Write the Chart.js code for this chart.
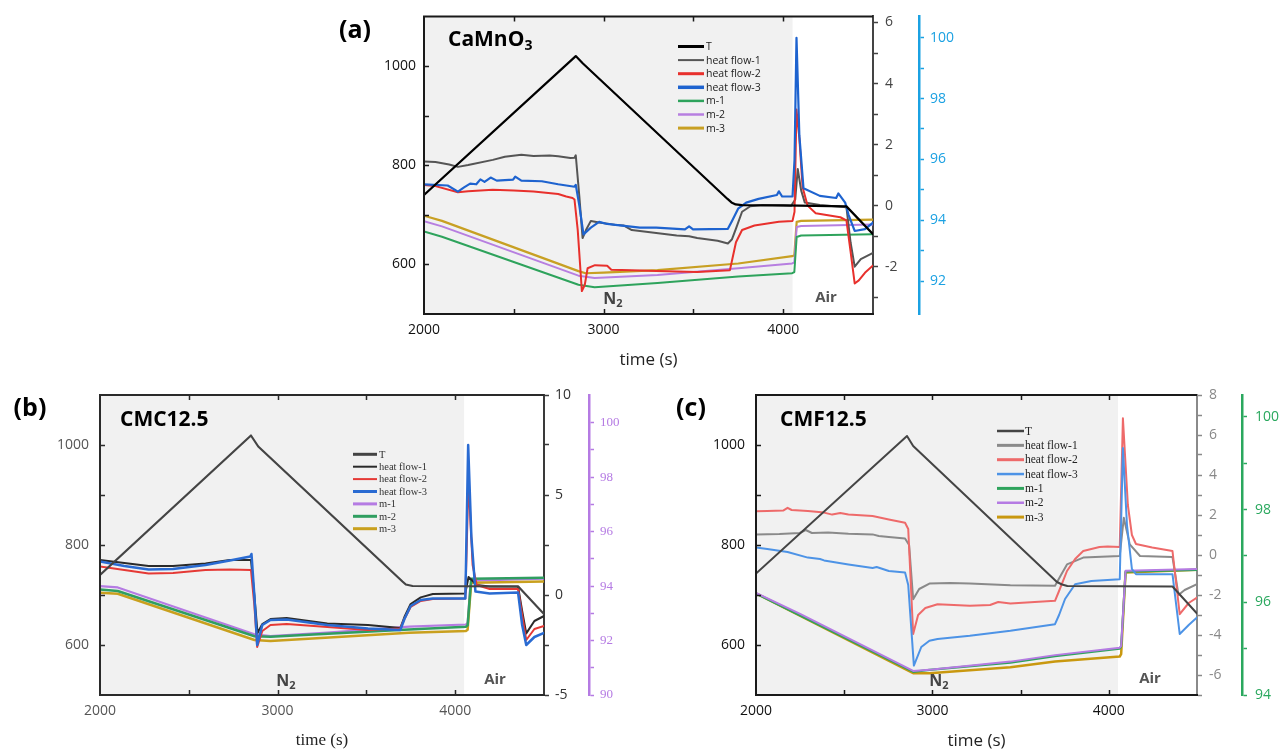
<!DOCTYPE html>
<html><head><meta charset="utf-8">
<script src="https://cdn.jsdelivr.net/npm/chart.js@4.4.1/dist/chart.umd.min.js"></script>
<style>
html,body{margin:0;padding:0;background:#fff;width:1282px;height:753px;overflow:hidden}
body{position:relative}
canvas{position:absolute}
</style></head><body>
<canvas id="ca" width="640" height="370" style="left:330px;top:0px"></canvas>
<canvas id="cb" width="640" height="383" style="left:0px;top:370px"></canvas>
<canvas id="cc" width="642" height="383" style="left:640px;top:370px"></canvas>
<script>
// ---------- shared tick values ----------
const xLabels = [2000, 3000, 4000];
const xMarks = [2500, 3000, 3500, 4000];
const tLabels = [600, 800, 1000];
const tMarks = [600, 700, 800, 900, 1000];
const seriesNames = ['T', 'heat flow-1', 'heat flow-2', 'heat flow-3', 'm-1', 'm-2', 'm-3'];

// ---------- panel (a) CaMnO3 ----------
const aT = [[2000,740],[2845,1020],[2885,1005],[3690,732],[3712,725],[3735,721],[3770,719.5],[4000,719],[4352,717],[4500,661]];
const aHF1 = [[2000,1.45],[2064,1.43],[2140,1.35],[2189,1.27],[2246,1.33],[2383,1.5],[2450,1.6],[2542,1.67],[2610,1.63],[2700,1.64],[2747,1.62],[2815,1.56],[2838,1.57],[2845,1.65],[2865,0.3],[2883,-1.06],[2902,-0.8],[2929,-0.5],[2975,-0.55],[3066,-0.63],[3111,-0.65],[3157,-0.8],[3293,-0.9],[3407,-0.98],[3476,-1.0],[3521,-1.06],[3635,-1.15],[3692,-1.24],[3715,-1.1],[3737,-0.75],[3771,-0.2],[3817,-0.02],[3885,0.02],[4045,0.0],[4067,0.2],[4081,1.2],[4100,0.5],[4120,0.1],[4204,0.02],[4352,-0.05],[4375,-1.2],[4398,-2.0],[4432,-1.75],[4500,-1.55]];
const aHF2 = [[2000,0.68],[2064,0.64],[2189,0.44],[2246,0.47],[2383,0.52],[2500,0.5],[2610,0.46],[2747,0.38],[2792,0.3],[2827,0.25],[2838,0.2],[2856,-0.8],[2879,-2.8],[2895,-2.6],[2911,-2.05],[2952,-1.95],[3020,-1.97],[3043,-2.1],[3157,-2.12],[3293,-2.14],[3521,-2.17],[3703,-2.12],[3715,-1.8],[3737,-1.2],[3771,-0.8],[3840,-0.65],[3976,-0.53],[4052,-0.5],[4063,-0.2],[4074,3.15],[4090,2.2],[4108,0.6],[4136,0.0],[4181,-0.25],[4318,-0.38],[4352,-0.48],[4375,-1.5],[4398,-2.55],[4421,-2.45],[4455,-2.2],[4500,-1.96]];
const aHF3 = [[2000,0.7],[2132,0.66],[2189,0.46],[2223,0.6],[2257,0.72],[2291,0.7],[2314,0.86],[2337,0.78],[2371,0.92],[2405,0.82],[2496,0.85],[2508,0.95],[2542,0.82],[2656,0.8],[2747,0.7],[2838,0.62],[2845,0.68],[2865,0.0],[2888,-0.94],[2929,-0.72],[2975,-0.53],[3020,-0.6],[3066,-0.63],[3202,-0.72],[3293,-0.72],[3453,-0.78],[3476,-0.68],[3498,-0.78],[3692,-0.76],[3715,-0.5],[3749,-0.1],[3794,0.1],[3863,0.22],[3965,0.35],[3976,0.47],[3994,0.3],[4052,0.3],[4063,1.5],[4074,5.5],[4090,2.3],[4113,0.57],[4204,0.32],[4295,0.25],[4307,0.4],[4345,0.1],[4364,-0.3],[4398,-0.83],[4455,-0.77],[4500,-0.56]];
const aM1 = [[2000,93.63],[2100,93.46],[2860,91.88],[2950,91.8],[3300,91.94],[3750,92.15],[4050,92.26],[4062,92.3],[4075,93.45],[4100,93.5],[4500,93.54]];
const aM2 = [[2000,93.97],[2100,93.8],[2860,92.18],[2950,92.1],[3300,92.2],[3750,92.42],[4050,92.58],[4062,92.62],[4075,93.78],[4100,93.81],[4500,93.86]];
const aM3 = [[2000,94.15],[2100,93.98],[2860,92.33],[2900,92.26],[3000,92.28],[3300,92.36],[3750,92.58],[4050,92.82],[4062,92.85],[4075,93.95],[4100,93.98],[4500,94.02]];
const aHFTicks = [-3,-2,-1,0,1,2,3,4,5,6];
const aHFLabels = [-2,0,2,4,6];
const aMTicks = [92,93,94,95,96,97,98,99,100];
const aMLabels = [92,94,96,98,100];

// ---------- panel (b) CMC12.5 ----------
const bT = [[2000,740],[2850,1019],[2891,997],[3703,727],[3722,721],[3760,718],[4355,717],[4500,662]];
const bHF1 = [[2000,1.75],[2137,1.6],[2274,1.45],[2411,1.45],[2594,1.58],[2731,1.75],[2850,1.75],[2869,0.0],[2887,-1.9],[2914,-1.45],[2960,-1.2],[3051,-1.15],[3280,-1.42],[3509,-1.5],[3691,-1.65],[3714,-1.1],[3749,-0.45],[3806,-0.12],[3874,0.05],[4057,0.08],[4075,0.9],[4098,0.7],[4121,0.5],[4194,0.42],[4354,0.42],[4377,-0.8],[4400,-1.92],[4446,-1.3],[4500,-1.05]];
const bHF2 = [[2000,1.42],[2137,1.25],[2274,1.08],[2411,1.1],[2594,1.25],[2731,1.27],[2850,1.25],[2869,-0.5],[2885,-2.6],[2914,-1.8],[2960,-1.5],[3051,-1.45],[3280,-1.6],[3509,-1.75],[3691,-1.67],[3714,-1.2],[3749,-0.6],[3806,-0.3],[3874,-0.2],[4057,-0.17],[4075,5.75],[4098,1.5],[4121,0.5],[4194,0.3],[4354,0.3],[4377,-1.0],[4400,-2.25],[4446,-1.7],[4500,-1.55]];
const bHF3 = [[2000,1.67],[2137,1.45],[2274,1.28],[2411,1.3],[2594,1.5],[2731,1.72],[2846,1.92],[2853,2.05],[2869,0.0],[2885,-2.5],[2914,-1.5],[2960,-1.25],[3051,-1.22],[3280,-1.5],[3509,-1.67],[3691,-1.75],[3714,-1.2],[3749,-0.55],[3806,-0.25],[3874,-0.17],[4057,-0.17],[4073,7.5],[4091,2.92],[4114,0.17],[4194,0.08],[4354,0.12],[4377,-1.5],[4400,-2.5],[4446,-2.1],[4500,-1.9]];
const bM1 = [[2000,94.0],[2100,93.95],[2870,92.23],[2960,92.16],[3280,92.29],[3740,92.51],[4060,92.59],[4070,92.65],[4085,94.0],[4100,94.2],[4500,94.27]];
const bM2 = [[2000,93.88],[2100,93.82],[2870,92.16],[2960,92.14],[3740,92.41],[4060,92.51],[4070,92.56],[4090,94.27],[4500,94.31]];
const bM3 = [[2000,93.76],[2100,93.72],[2870,92.02],[2960,91.98],[3740,92.29],[4060,92.35],[4070,92.4],[4090,94.12],[4500,94.17]];
const bHFTicks = [-5,-2.5,0,2.5,5,7.5,10];
const bHFLabels = [-5,0,5,10];
const bMTicks = [90,91,92,93,94,95,96,97,98,99,100];
const bMLabels = [90,92,94,96,98,100];

// ---------- panel (c) CMF12.5 ----------
const cT = [[2000,743],[2856,1018],[2891,998],[3706,726],[3735,721],[3765,718],[4361,717],[4500,663]];
const cHF1 = [[2000,1.03],[2133,1.05],[2248,1.1],[2282,1.25],[2317,1.1],[2409,1.12],[2524,1.06],[2661,1.03],[2696,0.95],[2753,0.9],[2845,0.83],[2868,0.5],[2891,-2.21],[2925,-1.7],[2983,-1.43],[3100,-1.4],[3212,-1.43],[3442,-1.51],[3695,-1.54],[3729,-1.0],[3763,-0.47],[3855,-0.13],[4062,-0.05],[4085,1.86],[4119,0.53],[4177,-0.05],[4361,-0.1],[4395,-2.0],[4430,-1.75],[4500,-1.46]];
const cHF2 = [[2000,2.19],[2064,2.2],[2156,2.23],[2179,2.36],[2202,2.25],[2294,2.2],[2386,2.12],[2432,2.02],[2478,2.1],[2524,2.03],[2661,1.95],[2753,1.78],[2845,1.61],[2863,1.3],[2891,-3.95],[2919,-3.0],[2960,-2.65],[3029,-2.46],[3121,-2.5],[3212,-2.54],[3327,-2.5],[3373,-2.35],[3442,-2.43],[3580,-2.35],[3695,-2.29],[3718,-1.8],[3763,-0.8],[3809,-0.2],[3855,0.2],[3901,0.3],[3947,0.4],[3993,0.42],[4062,0.4],[4080,6.84],[4108,2.5],[4131,1.0],[4154,0.55],[4246,0.38],[4361,0.2],[4402,-2.96],[4453,-2.4],[4500,-2.13]];
const cHF3 = [[2000,0.37],[2064,0.3],[2179,0.15],[2294,-0.13],[2363,-0.2],[2386,-0.27],[2524,-0.47],[2661,-0.65],[2684,-0.6],[2753,-0.8],[2845,-0.88],[2863,-1.5],[2895,-5.53],[2937,-4.6],[2983,-4.29],[3029,-4.2],[3212,-4.04],[3442,-3.79],[3695,-3.46],[3718,-3.0],[3752,-2.2],[3809,-1.46],[3901,-1.3],[4062,-1.21],[4080,5.35],[4103,1.5],[4131,-0.7],[4154,-0.96],[4361,-0.96],[4402,-3.95],[4453,-3.5],[4500,-3.12]];
const cM1 = [[2000,96.19],[2891,94.5],[2983,94.54],[3442,94.7],[3695,94.84],[4062,95.0],[4070,95.05],[4095,96.66],[4500,96.7]];
const cM2 = [[2000,96.2],[2250,95.75],[2891,94.52],[3000,94.55],[3442,94.72],[3695,94.86],[4062,95.02],[4070,95.06],[4095,96.68],[4500,96.72]];
const cM3 = [[2000,96.19],[2891,94.47],[2983,94.47],[3442,94.6],[3695,94.72],[4062,94.83],[4070,94.88],[4095,96.64],[4500,96.7]];
const cHFTicks = [-7,-6,-5,-4,-3,-2,-1,0,1,2,3,4,5,6,7,8];
const cHFLabels = [-6,-4,-2,0,2,4,6,8];
const cMTicks = [94,95,96,97,98,99,100];
const cMLabels = [94,96,98,100];

const SANS = "'Open Sans', 'DejaVu Sans', sans-serif";
const SERIF = "'Liberation Serif', 'DejaVu Serif', serif";

function toPts(arr) { return arr.map(p => ({ x: p[0], y: p[1] })); }

function richText(ctx, parts, x, y, align) {
  let w = 0;
  parts.forEach(p => { ctx.font = p.f; w += ctx.measureText(p.t).width; });
  let cx = align === 'center' ? x - w / 2 : x;
  ctx.textBaseline = 'middle'; ctx.textAlign = 'left';
  parts.forEach(p => {
    ctx.font = p.f; ctx.fillStyle = p.c;
    ctx.fillText(p.t, cx, y + (p.dy || 0));
    cx += ctx.measureText(p.t).width;
  });
}

function makeChart(id, P) {
  const el = document.getElementById(id);
  const W = el.width, H = el.height;
  const A = P.area;
  const datasets = P.series.map((s, i) => ({
    label: P.names[i], data: toPts(s.data), yAxisID: s.axis, order: s.order,
    borderColor: s.color, borderWidth: s.w, legW: s.legW,
    pointRadius: 0, fill: false, tension: 0, borderJoinStyle: 'round', borderCapStyle: 'round'
  }));
  const plug = {
    id: 'deco' + id,
    beforeDatasetsDraw(chart) {
      const ctx = chart.ctx, ca = chart.chartArea, xs = chart.scales.x;
      ctx.save();
      ctx.fillStyle = '#f1f1f1';
      const xe = xs.getPixelForValue(P.shadeEnd);
      ctx.fillRect(ca.left, ca.top, xe - ca.left, ca.bottom - ca.top);
      ctx.restore();
    },
    afterDraw(chart) {
      const ctx = chart.ctx, ca = chart.chartArea, xs = chart.scales.x, ys = chart.scales.y;
      ctx.save();
      ctx.strokeStyle = P.frameColor; ctx.lineWidth = 2; ctx.lineCap = 'butt';
      ctx.beginPath();
      ctx.moveTo(ca.right, ca.top); ctx.lineTo(ca.left, ca.top); ctx.lineTo(ca.left, ca.bottom); ctx.lineTo(ca.right + 1, ca.bottom);
      ctx.stroke();
      ctx.lineWidth = 1.5;
      ctx.beginPath();
      xMarks.forEach(v => {
        const px = Math.round(xs.getPixelForValue(v)) + 0.5;
        ctx.moveTo(px, ca.bottom); ctx.lineTo(px, ca.bottom - 5);
        ctx.moveTo(px, ca.top); ctx.lineTo(px, ca.top + 5);
      });
      tMarks.forEach(v => {
        const py = Math.round(ys.getPixelForValue(v)) + 0.5;
        ctx.moveTo(ca.left, py); ctx.lineTo(ca.left + 5, py);
      });
      ctx.stroke();
      // legend
      const L = P.legend;
      chart.data.datasets.forEach((d, i) => {
        const y = L.y0 + i * L.dy;
        ctx.strokeStyle = d.borderColor; ctx.lineWidth = d.legW;
        ctx.beginPath(); ctx.moveTo(L.x0, y); ctx.lineTo(L.x1, y); ctx.stroke();
        ctx.font = L.font; ctx.fillStyle = L.color; ctx.textAlign = 'left'; ctx.textBaseline = 'middle';
        ctx.fillText(d.label, L.tx, y + 0.5);
      });
      P.texts.forEach(t => richText(ctx, t.parts, t.x, t.y, t.align));
      ctx.restore();
    }
  };
  new Chart(el, {
    type: 'line',
    data: { datasets },
    options: {
      responsive: false, animation: false, devicePixelRatio: 1,
      layout: { padding: { top: A.top, left: 0, right: 0, bottom: 0 } },
      plugins: { legend: { display: false }, tooltip: { enabled: false } },
      scales: {
        x: {
          type: 'linear', position: 'bottom', min: 2000, max: 4500,
          afterBuildTicks: s => { s.ticks = xLabels.map(v => ({ value: v })); },
          afterFit: s => { s.height = H - A.bottom; },
          grid: { display: false, drawTicks: false }, border: { display: false },
          ticks: { padding: P.xPad, color: P.leftColor, font: P.tickFont, maxRotation: 0, callback: v => String(v) },
          title: { display: true, text: 'time (s)', color: '#222', font: P.titleFont, padding: { top: 0, bottom: P.titleBottom } }
        },
        y: {
          type: 'linear', position: 'left', min: 500, max: 1100,
          afterBuildTicks: s => { s.ticks = tLabels.map(v => ({ value: v })); },
          afterFit: s => { s.width = A.left; },
          grid: { display: false, drawTicks: false }, border: { display: false },
          ticks: { padding: P.yPad, color: P.leftColor, font: P.tickFont, callback: v => String(v) }
        },
        y1: {
          type: 'linear', position: 'right', weight: 1, min: P.hf.min, max: P.hf.max,
          afterBuildTicks: s => { s.ticks = P.hf.ticks.map(v => ({ value: v })); },
          afterFit: s => { s.width = P.y1w; },
          grid: { display: true, drawOnChartArea: false, drawTicks: true, tickLength: 5, tickColor: P.hf.color, tickWidth: 1.5 },
          border: { display: true, color: P.hf.color, width: 2 },
          ticks: { padding: P.hf.pad, color: P.hf.labelColor, font: P.hf.font,
                   callback: v => P.hf.labels.includes(v) ? String(v) : '' }
        },
        y2: {
          type: 'linear', position: 'right', weight: 2, min: P.m.min, max: P.m.max,
          afterBuildTicks: s => { s.ticks = P.m.ticks.map(v => ({ value: v })); },
          afterFit: s => { s.width = W - A.right - P.y1w; },
          grid: { display: true, drawOnChartArea: false, drawTicks: true, tickLength: 5, tickColor: P.m.color, tickWidth: 1.5 },
          border: { display: true, color: P.m.color, width: 2.5 },
          ticks: { padding: P.m.pad, color: P.m.color, font: P.m.font,
                   callback: v => P.m.labels.includes(v) ? String(v) : '' }
        }
      }
    },
    plugins: [plug]
  });
}

// ---------- panel (a) ----------
makeChart('ca', {
  area: { left: 94, right: 543, top: 12, bottom: 314 },
  y1w: 46, shadeEnd: 4052, frameColor: '#1a1a1a', leftColor: '#111',
  xPad: 8, yPad: 8, titleBottom: 0,
  tickFont: { family: SANS, size: 14 }, titleFont: { family: SANS, size: 17 },
  names: seriesNames,
  hf: { min: -3.55, max: 6.2, ticks: aHFTicks, labels: aHFLabels, color: '#444', labelColor: '#444', pad: 7, font: { family: SANS, size: 14 } },
  m: { min: 90.92, max: 100.7, ticks: aMTicks, labels: aMLabels, color: '#1ba1e2', pad: 6, font: { family: SANS, size: 14 } },
  series: [
    { data: aT, axis: 'y', color: '#000000', w: 2.2, legW: 3, order: 1 },
    { data: aHF1, axis: 'y1', color: '#555555', w: 2, legW: 2, order: 4 },
    { data: aHF2, axis: 'y1', color: '#e8302c', w: 2, legW: 3, order: 3 },
    { data: aHF3, axis: 'y1', color: '#1e63cf', w: 2.2, legW: 3.5, order: 2 },
    { data: aM1, axis: 'y2', color: '#2ea35c', w: 2, legW: 2.5, order: 5 },
    { data: aM2, axis: 'y2', color: '#b77fe0', w: 2, legW: 2.5, order: 6 },
    { data: aM3, axis: 'y2', color: '#c8a023', w: 2.2, legW: 3, order: 7 }
  ],
  legend: { x0: 348, x1: 374, tx: 376, y0: 46.5, dy: 13.6, font: '10.5px ' + SANS, color: '#222' },
  texts: [
    { parts: [{ t: '(a)', f: 'bold 25px ' + SANS, c: '#000' }], x: 25, y: 31, align: 'center' },
    { parts: [{ t: 'CaMnO', f: 'bold 21px ' + SANS, c: '#000' }, { t: '3', f: 'bold 14px ' + SANS, c: '#000', dy: 6 }], x: 118, y: 40, align: 'left' },
    { parts: [{ t: 'N', f: 'bold 16px ' + SANS, c: '#444' }, { t: '2', f: 'bold 11px ' + SANS, c: '#444', dy: 5 }], x: 283, y: 299, align: 'center' },
    { parts: [{ t: 'Air', f: 'bold 15px ' + SANS, c: '#555' }], x: 496, y: 298, align: 'center' }
  ]
});

// ---------- panel (b) ----------
makeChart('cb', {
  area: { left: 100, right: 544, top: 25, bottom: 325 },
  y1w: 45, shadeEnd: 4050, frameColor: '#2a2a2a', leftColor: '#555',
  xPad: 8, yPad: 11, titleBottom: 2,
  tickFont: { family: SANS, size: 14 }, titleFont: { family: SERIF, size: 17 },
  names: seriesNames,
  hf: { min: -5, max: 10, ticks: bHFTicks, labels: bHFLabels, color: '#3a3a3a', labelColor: '#333', pad: 6, font: { family: SANS, size: 14 } },
  m: { min: 90, max: 101.02, ticks: bMTicks, labels: bMLabels, color: '#b57be3', pad: 6, font: { family: SERIF, size: 13 } },
  series: [
    { data: bT, axis: 'y', color: '#444444', w: 2.2, legW: 3, order: 1 },
    { data: bHF1, axis: 'y1', color: '#2a2a2a', w: 2, legW: 2, order: 4 },
    { data: bHF2, axis: 'y1', color: '#e53935', w: 2, legW: 2, order: 3 },
    { data: bHF3, axis: 'y1', color: '#2a6bd2', w: 2.5, legW: 3, order: 2 },
    { data: bM1, axis: 'y2', color: '#b57be3', w: 2.2, legW: 3, order: 7 },
    { data: bM2, axis: 'y2', color: '#2f9e60', w: 2.5, legW: 3, order: 5 },
    { data: bM3, axis: 'y2', color: '#c9a01e', w: 2.5, legW: 3, order: 6 }
  ],
  legend: { x0: 353, x1: 377, tx: 379, y0: 84.3, dy: 12.4, font: '10.5px ' + SERIF, color: '#333' },
  texts: [
    { parts: [{ t: '(b)', f: 'bold 25px ' + SANS, c: '#000' }], x: 30, y: 39, align: 'center' },
    { parts: [{ t: 'CMC12.5', f: 'bold 21px ' + SANS, c: '#000' }], x: 120, y: 50, align: 'left' },
    { parts: [{ t: 'N', f: 'bold 16px ' + SANS, c: '#444' }, { t: '2', f: 'bold 11px ' + SANS, c: '#444', dy: 5 }], x: 286, y: 311, align: 'center' },
    { parts: [{ t: 'Air', f: 'bold 15px ' + SANS, c: '#555' }], x: 495, y: 310, align: 'center' }
  ]
});

// ---------- panel (c) ----------
makeChart('cc', {
  area: { left: 116, right: 557, top: 25, bottom: 325 },
  y1w: 45, shadeEnd: 4052, frameColor: '#1a1a1a', leftColor: '#111',
  xPad: 8, yPad: 11, titleBottom: 2,
  tickFont: { family: SANS, size: 14 }, titleFont: { family: SANS, size: 17 },
  names: seriesNames,
  hf: { min: -7, max: 8, ticks: cHFTicks, labels: cHFLabels, color: '#8a8a8a', labelColor: '#888', pad: 7, font: { family: SANS, size: 14 } },
  m: { min: 94, max: 100.47, ticks: cMTicks, labels: cMLabels, color: '#2aa85e', pad: 8, font: { family: SANS, size: 14 } },
  series: [
    { data: cT, axis: 'y', color: '#444444', w: 2, legW: 2.5, order: 1 },
    { data: cHF1, axis: 'y1', color: '#8a8a8a', w: 2, legW: 3, order: 4 },
    { data: cHF2, axis: 'y1', color: '#ee6a6a', w: 2, legW: 3, order: 3 },
    { data: cHF3, axis: 'y1', color: '#4d93e6', w: 2, legW: 2.5, order: 2 },
    { data: cM1, axis: 'y2', color: '#2ea35c', w: 2.2, legW: 3, order: 6 },
    { data: cM2, axis: 'y2', color: '#b57be3', w: 2, legW: 2.5, order: 5 },
    { data: cM3, axis: 'y2', color: '#c9980f', w: 2.5, legW: 3, order: 7 }
  ],
  legend: { x0: 357, x1: 384, tx: 385, y0: 61, dy: 14.35, font: '11.5px ' + SERIF, color: '#222' },
  texts: [
    { parts: [{ t: '(c)', f: 'bold 25px ' + SANS, c: '#000' }], x: 51, y: 39, align: 'center' },
    { parts: [{ t: 'CMF12.5', f: 'bold 21px ' + SANS, c: '#000' }], x: 140, y: 50, align: 'left' },
    { parts: [{ t: 'N', f: 'bold 16px ' + SANS, c: '#444' }, { t: '2', f: 'bold 11px ' + SANS, c: '#444', dy: 5 }], x: 299, y: 311, align: 'center' },
    { parts: [{ t: 'Air', f: 'bold 15px ' + SANS, c: '#555' }], x: 510, y: 309, align: 'center' }
  ]
});
</script>
</body></html>
